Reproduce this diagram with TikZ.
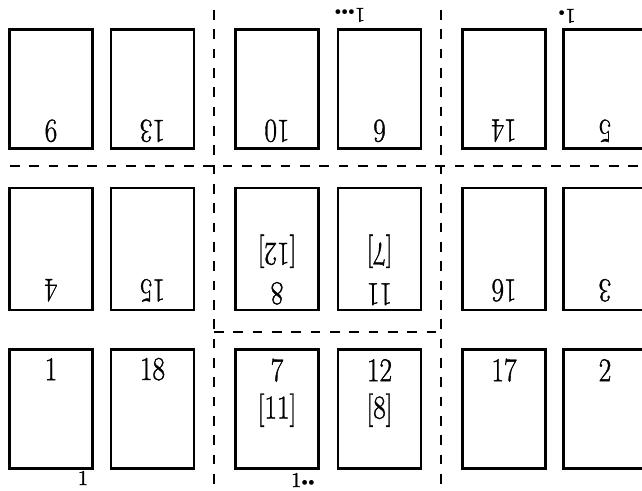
\documentclass[tikz,border=0pt]{standalone}
\usepackage{fontspec}
\newfontfamily\numfont{Latin Modern Roman}[RawFeature={embolden=1.2}]
\usepackage{tikz}
\usetikzlibrary{positioning, calc}
\tikzset{
  page/.style={rectangle, draw=black, line width=1.5pt,
    minimum width=1.66cm, minimum height=2.38cm, inner sep=0pt},
  tallpage/.style={page, minimum height=2.44cm},
  num/.style={font=\numfont\fontsize{19}{20}\selectfont, inner sep=0pt,
    xscale=0.82, transform shape},
  flipnum/.style={num, rotate=180},
  signmark/.style={font=\numfont\fontsize{12}{13}\selectfont, inner sep=0pt},
  fold/.style={line width=0.8pt, dash pattern=on 5.5pt off 5.5pt}
}
\newcommand{\sdots}[1]{\raisebox{0.2ex}{$\scriptscriptstyle#1$}}

\begin{document}
\begin{tikzpicture}[x=0.02cm, y=-0.02cm]
  \useasboundingbox (0,0) rectangle (642,490);
  \clip (0,0) rectangle (642,490);

  % Fold lines
  \coordinate (hl) at (10,166);
  \coordinate (hr) at (642,166);
  \coordinate (ml) at (214,332);
  \coordinate (mr) at (441,332);
  \coordinate (v1t) at (214,10);
  \coordinate (v1b) at (214,490);
  \coordinate (v2t) at (441,10);
  \coordinate (v2b) at (441,490);
  \draw[fold] (hl) -- (hr);
  \draw[fold] (ml) -- (mr);
  \draw[fold] (v1t) -- (v1b);
  \draw[fold] (v2t) -- (v2b);

  % Top row (upside down)
  \node[page] (p9)  at (51,89) {};
  \node[page] (p13) at (152.5,89) {};
  \node[page] (p10) at (277,89) {};
  \node[page] (p6)  at (379.5,89) {};
  \node[page] (p14) at (504,89) {};
  \node[page] (p5)  at (605,89) {};
  \node[flipnum] at ($(p9.south)+(0,-19)$) {9};
  \node[flipnum] at ($(p13.south)+(0,-19)$) {13};
  \node[flipnum] at ($(p10.south)+(0,-19)$) {10};
  \node[flipnum] at ($(p6.south)+(0,-19)$) {6};
  \node[flipnum] at ($(p14.south)+(0,-19)$) {14};
  \node[flipnum] at ($(p5.south)+(0,-19)$) {5};

  % Middle row (upside down)
  \node[tallpage] (p4)  at (51,249) {};
  \node[tallpage] (p15) at (152.5,249) {};
  \node[tallpage] (p8)  at (277,249) {};
  \node[tallpage] (p11) at (379.5,249) {};
  \node[tallpage] (p16) at (504,249) {};
  \node[tallpage] (p3)  at (605,249) {};
  \node[flipnum] at ($(p4.south)+(0,-21)$) {4};
  \node[flipnum] at ($(p15.south)+(0,-21)$) {15};
  \node[flipnum] at ($(p8.south)+(0,-18)$) {8};
  \node[flipnum] at ($(p8.south)+(0,-60)$) {[12]};
  \node[flipnum] at ($(p11.south)+(0,-17)$) {11};
  \node[flipnum] at ($(p11.south)+(0,-60)$) {[7]};
  \node[flipnum] at ($(p16.south)+(0,-21)$) {16};
  \node[flipnum] at ($(p3.south)+(0,-21)$) {3};

  % Bottom row
  \node[page] (p1)  at (51,409) {};
  \node[page] (p18) at (152.5,409) {};
  \node[page] (p7)  at (277,409) {};
  \node[page] (p12) at (379.5,409) {};
  \node[page] (p17) at (504,409) {};
  \node[page] (p2)  at (605,409) {};
  \node[num] at ($(p1.north)+(0,21)$) {1};
  \node[num] at ($(p18.north)+(0,21)$) {18};
  \node[num] at ($(p7.north)+(0,22)$) {7};
  \node[num] at ($(p7.north)+(0,62)$) {[11]};
  \node[num] at ($(p12.north)+(0,22)$) {12};
  \node[num] at ($(p12.north)+(0,62)$) {[8]};
  \node[num] at ($(p17.north)+(0,22)$) {17};
  \node[num] at ($(p2.north)+(0,22)$) {2};

  % Signature marks
  \node[signmark] (s1) at (83,478) {1};
  \node[signmark] (s2) at (303,480) {1\sdots{\bullet\bullet}};
  \node[signmark, rotate=180] (s3) at (350,15) {1\sdots{\bullet\bullet\bullet}};
  \node[signmark, rotate=180] (s4) at (567,16) {1\sdots{\bullet}};
\end{tikzpicture}
\end{document}
